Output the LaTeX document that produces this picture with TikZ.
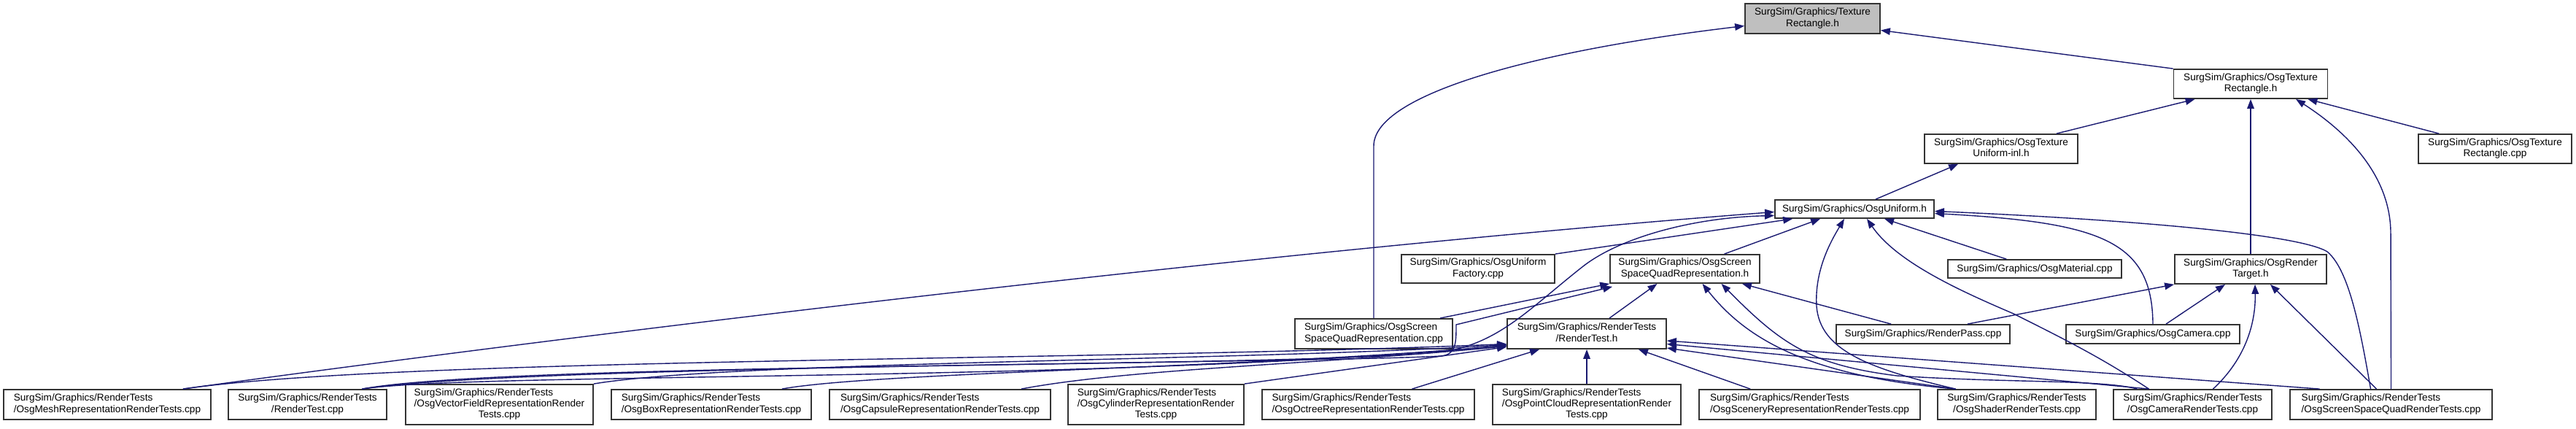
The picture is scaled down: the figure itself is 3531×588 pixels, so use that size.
\documentclass[tikz,border=0pt]{standalone}
\usepackage{fontspec}
\setmainfont{Liberation Sans}
\usetikzlibrary{arrows.meta}

\definecolor{edgeblue}{HTML}{191970}
\newcommand{\twolines}[2]{\begin{tabular}{@{}l@{}}#1\\\multicolumn{1}{@{}c@{}}{#2}\end{tabular}}
\newcommand{\threelines}[3]{\begin{tabular}{@{}l@{}}#1\\#2\\\multicolumn{1}{@{}c@{}}{#3}\end{tabular}}

\tikzset{
  file/.style 2 args={draw=black!80, line width=0.9pt, fill=white, inner sep=0pt,
    minimum width=#1*0.5pt, minimum height=#2*0.5pt, font=\fontsize{6.8}{7.7}\selectfont},
  incl/.style={draw=edgeblue, line width=0.7pt, -{Triangle[length=6.5pt,width=4.8pt]}}
}

\begin{document}
\begin{tikzpicture}[x=0.5pt, y=-0.5pt]
  \useasboundingbox (0,0) rectangle (3531,588);

  % the headers on top
  \node[file={185}{41}, fill=gray!50] (trh) at (2484.5,25.5) {\twolines{SurgSim/Graphics/Texture}{Rectangle.h}};
  \node[file={211}{40}] (otrh) at (3085,115) {\twolines{SurgSim/Graphics/OsgTexture}{Rectangle.h}};
  \node[file={210}{40}] (otuh) at (2743,204) {\twolines{SurgSim/Graphics/OsgTexture}{Uniform-inl.h}};
  \node[file={210}{40}] (otrcpp) at (3420,204) {\twolines{SurgSim/Graphics/OsgTexture}{Rectangle.cpp}};
  \node[file={218}{25}] (ouh) at (2542,286.5) {SurgSim/Graphics/OsgUniform.h};

  % the middle rows
  \node[file={210}{39}] (ufac) at (2026,368.5) {\twolines{SurgSim/Graphics/OsgUniform}{Factory.cpp}};
  \node[file={205}{39}] (ssqrh) at (2309.5,368.5) {\twolines{SurgSim/Graphics/OsgScreen}{SpaceQuadRepresentation.h}};
  \node[file={238}{25}] (omat) at (2789,368.5) {SurgSim/Graphics/OsgMaterial.cpp};
  \node[file={208}{40}] (ortg) at (3085,369) {\twolines{SurgSim/Graphics/OsgRender}{Target.h}};
  \node[file={216}{41}] (ssqrcpp) at (1883,457.5) {\twolines{SurgSim/Graphics/OsgScreen}{SpaceQuadRepresentation.cpp}};
  \node[file={218}{41}] (rth) at (2175,457.5) {\twolines{SurgSim/Graphics/RenderTests}{/RenderTest.h}};
  \node[file={238}{26}] (rpass) at (2636,458) {SurgSim/Graphics/RenderPass.cpp};
  \node[file={238}{26}] (ocam) at (2951,458) {SurgSim/Graphics/OsgCamera.cpp};

  % the render tests at the bottom
  \node[file={284}{41}] (meshrt) at (147,554.5) {\twolines{SurgSim/Graphics/RenderTests}{/OsgMeshRepresentationRenderTests.cpp}};
  \node[file={217}{41}] (rtcpp) at (421.5,554.5) {\twolines{SurgSim/Graphics/RenderTests}{/RenderTest.cpp}};
  \node[file={257}{55}] (vfieldrt) at (684.5,554.5) {\threelines{SurgSim/Graphics/RenderTests}{/OsgVectorFieldRepresentationRender}{Tests.cpp}};
  \node[file={274}{41}] (boxrt) at (975,554.5) {\twolines{SurgSim/Graphics/RenderTests}{/OsgBoxRepresentationRenderTests.cpp}};
  \node[file={303}{41}] (capsulert) at (1288.5,554.5) {\twolines{SurgSim/Graphics/RenderTests}{/OsgCapsuleRepresentationRenderTests.cpp}};
  \node[file={241}{55}] (cylinderrt) at (1584.5,554.5) {\threelines{SurgSim/Graphics/RenderTests}{/OsgCylinderRepresentationRender}{Tests.cpp}};
  \node[file={291}{41}] (octreert) at (1875.5,554.5) {\twolines{SurgSim/Graphics/RenderTests}{/OsgOctreeRepresentationRenderTests.cpp}};
  \node[file={258}{55}] (pcloudrt) at (2175,554.5) {\threelines{SurgSim/Graphics/RenderTests}{/OsgPointCloudRepresentationRender}{Tests.cpp}};
  \node[file={303}{41}] (sceneryrt) at (2480.5,554.5) {\twolines{SurgSim/Graphics/RenderTests}{/OsgSceneryRepresentationRenderTests.cpp}};
  \node[file={217}{41}] (shaderrt) at (2764.5,554.5) {\twolines{SurgSim/Graphics/RenderTests}{/OsgShaderRenderTests.cpp}};
  \node[file={217}{41}] (camerart) at (3005.5,554.5) {\twolines{SurgSim/Graphics/RenderTests}{/OsgCameraRenderTests.cpp}};
  \node[file={277}{41}] (ssqrrt) at (3277.5,554.5) {\twolines{SurgSim/Graphics/RenderTests}{/OsgScreenSpaceQuadRenderTests.cpp}};

  % includes of TextureRectangle.h
  \draw[incl] (otrh.north west) -- ([yshift=-8pt]trh.east);
  \draw[incl] (ssqrcpp.north) -- (1883,200) .. controls (1883,130) and (2100,70) .. ([yshift=-5pt]trh.west);

  % includes of OsgTextureRectangle.h
  \draw[incl] ([xshift=-15pt]otuh.north east) -- ([xshift=15pt]otrh.south west);
  \draw[incl] (ortg.north) -- (otrh.south);
  \draw[incl] (ssqrrt.north) -- (3277,320) .. controls (3277,230) and (3200,170) .. ([xshift=31pt]otrh.south);
  \draw[incl] ([xshift=14.5pt]otrcpp.north west) -- ([xshift=-14pt]otrh.south east);

  % includes of OsgTextureUniform-inl.h
  \draw[incl] ([xshift=14.5pt]ouh.north) -- ([xshift=23.5pt]otuh.south west);

  % includes of OsgUniform.h
  \draw[incl] ([xshift=-19.5pt]meshrt.north east) .. controls (600,485) and (1600,355) .. ([yshift=-2pt]ouh.west);
  \draw[incl] ([xshift=37.5pt]rtcpp.north) .. controls (700,495) and (1850,505) .. (1990,480)
    .. controls (2060,465) and (2100,420) .. (2170,365) .. controls (2220,326) and (2320,298) .. ([yshift=-4.5pt]ouh.west);
  \draw[incl] (ufac.north east) -- ([xshift=12.5pt]ouh.south west);
  \draw[incl] ([xshift=27pt]ssqrh.north) -- ([xshift=31.5pt]ouh.south west);
  \draw[incl] ([xshift=-42pt]shaderrt.north) .. controls (2560,505) and (2495,480) .. (2490,420)
    .. controls (2487,370) and (2510,330) .. ([xshift=-7pt]ouh.south);
  \draw[incl] ([xshift=-30pt]camerart.north) .. controls (2880,490) and (2830,465) .. (2760,430)
    .. controls (2690,400) and (2600,360) .. ([xshift=8.5pt]ouh.south);
  \draw[incl] ([xshift=40.5pt]omat.north west) -- ([xshift=20.5pt]ouh.south);
  \draw[incl] (ocam.north) .. controls (2950,330) and (2880,305) .. ([yshift=-3pt]ouh.east);
  \draw[incl] ([xshift=-14pt]ssqrrt.north) .. controls (3235,450) and (3220,370) .. (3190,345)
    .. controls (3150,320) and (2900,300) .. ([yshift=-1.5pt]ouh.east);

  % includes of OsgScreenSpaceQuadRepresentation.h
  \draw[incl] ([xshift=-9pt]ssqrcpp.north east) -- (ssqrh.south west);
  \draw[incl] ([xshift=37.5pt]rtcpp.north) .. controls (720,500) and (1800,498) .. (1975,488)
    .. controls (1996,486) and (1996,470) .. (1996,445) -- ([xshift=2pt,yshift=-2pt]ssqrh.south west);
  \draw[incl] ([xshift=15.5pt]rth.north) -- ([xshift=-19pt]ssqrh.south);
  \draw[incl] ([xshift=38pt]rpass.north west) -- ([xshift=-12.5pt]ssqrh.south east);
  \draw[incl] ([xshift=-42pt]shaderrt.north) .. controls (2470,515) and (2390,460) .. ([xshift=12pt]ssqrh.south);
  \draw[incl] ([xshift=-38pt]camerart.north) .. controls (2880,520) and (2750,525) .. (2600,515)
    .. controls (2480,500) and (2440,470) .. ([xshift=25pt]ssqrh.south);

  % includes of RenderTest.h
  \draw[incl] ([xshift=-19.5pt]meshrt.north east) .. controls (550,490) and (1500,495) .. ([yshift=-7pt]rth.west);
  \draw[incl] ([xshift=37.5pt]rtcpp.north) .. controls (650,510) and (1500,525) .. ([yshift=-8pt]rth.west);
  \draw[incl] (vfieldrt.north east) .. controls (1000,495) and (1700,495) .. ([yshift=-7.5pt]rth.west);
  \draw[incl] ([xshift=-20.5pt]boxrt.north east) .. controls (1200,510) and (1700,505) .. ([yshift=-8pt]rth.west);
  \draw[incl] ([xshift=-20.5pt]capsulert.north east) .. controls (1550,505) and (1800,500) .. ([yshift=-8.5pt]rth.west);
  \draw[incl] (cylinderrt.north east) -- ([yshift=-9pt]rth.west);
  \draw[incl] ([xshift=30pt]octreert.north) -- ([xshift=22.5pt]rth.south west);
  \draw[incl] (pcloudrt.north) -- (rth.south);
  \draw[incl] ([xshift=35.5pt]sceneryrt.north west) -- ([xshift=-19.5pt]rth.south east);
  \draw[incl] ([xshift=-42pt]shaderrt.north) -- ([yshift=-9.75pt]rth.east);
  \draw[incl] ([xshift=-30pt]camerart.north) -- ([yshift=-7pt]rth.east);
  \draw[incl] ([xshift=-49pt]ssqrrt.north) -- ([yshift=-4.75pt]rth.east);

  % includes of OsgRenderTarget.h
  \draw[incl] ([xshift=-29.5pt]rpass.north east) -- (ortg.south west);
  \draw[incl] ([xshift=9pt]ocam.north) -- ([xshift=-17.5pt]ortg.south);
  \draw[incl] ([xshift=14pt]camerart.north) .. controls (3080,490) and (3092,440) .. ([xshift=3pt]ortg.south);
  \draw[incl] ([xshift=-10pt]ssqrrt.north) -- ([xshift=13.5pt]ortg.south);
\end{tikzpicture}
\end{document}
